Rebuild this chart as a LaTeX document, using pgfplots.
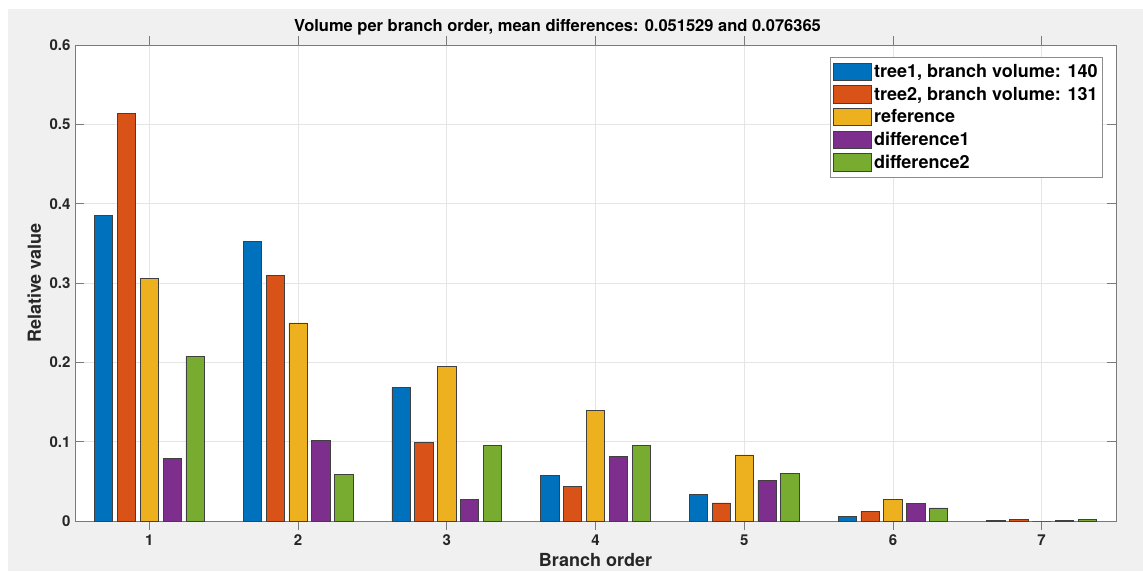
\documentclass[border=0pt]{standalone}
\usepackage{fontspec}
\setmainfont{TeX Gyre Heros}
\usepackage{pgfplots}
\pgfplotsset{compat=1.18}
\definecolor{c1}{HTML}{0072BD}
\definecolor{c2}{HTML}{D95319}
\definecolor{c3}{HTML}{EDB120}
\definecolor{c4}{HTML}{7E2F8E}
\definecolor{c5}{HTML}{77AC30}
\definecolor{figgray}{HTML}{F0F0F0}
\definecolor{axgray}{HTML}{7A7A7A}
\definecolor{txtgray}{HTML}{262626}
\begin{document}
\begin{tikzpicture}[x=1pt,y=1pt]
\path[use as bounding box] (0,0) rectangle (1143,571);
\fill[white] (0,0) rectangle (1143,571);
\fill[figgray] (8,0) rectangle (1143,562);
\begin{axis}[
  at={(75pt,50pt)}, anchor=south west,
  scale only axis, width=1041pt, height=476pt,
  xmin=0.5, xmax=7.5, ymin=0, ymax=0.6,
  xtick={1,2,3,4,5,6,7},
  ytick={0,0.1,0.2,0.3,0.4,0.5,0.6},
  yticklabel style={/pgf/number format/fixed,/pgf/number format/precision=1},
  /pgf/number format/assume math mode=true,
  tick label style={font=\bfseries\fontsize{15}{18}\selectfont, text=txtgray},
  xticklabel style={yshift=-1pt},
  yticklabel style={xshift=-1pt},
  tick align=inside,
  major tick length=9pt,
  tick style={axgray, line width=0.8pt},
  axis line style={axgray, line width=0.8pt},
  axis background/.style={fill=white},
  grid=major,
  major grid style={black!10, line width=0.8pt},
  title={Volume per branch order, mean differences: 0.051529 and 0.076365},
  title style={at={(0.5,1)}, anchor=base, yshift=8pt, xshift=-38pt, inner sep=0pt, font=\bfseries\fontsize{16.5}{19}\selectfont, text=black},
  xlabel={Branch order},
  xlabel style={at={(0.5,0)}, anchor=base, yshift=-45pt, inner sep=0pt, font=\bfseries\fontsize{18}{21}\selectfont, text=txtgray},
  ylabel={Relative value},
  ylabel style={at={(0,0.5)}, anchor=base, yshift=34pt, inner sep=0pt, font=\bfseries\fontsize{18}{21}\selectfont, text=txtgray},
  ybar,
  bar width=0.123,
  every axis plot/.append style={draw=black!75, line width=0.7pt},
  legend image code/.code={\draw[#1] (0pt,-8.7pt) rectangle (38pt,8.7pt);},
  legend style={at={(0.9875,0.975)}, anchor=north east, draw=black!45, fill=white, line width=0.8pt,
    font=\bfseries\fontsize{18}{21}\selectfont, text=black, cells={anchor=west}, row sep=4pt, inner xsep=3pt, inner ysep=5pt,
    nodes={inner xsep=2pt}},
  legend cell align=left,
]
\addplot[fill=c1, bar shift=-0.3077] coordinates {(1,0.3851) (2,0.3526) (3,0.168) (4,0.0571) (5,0.0336) (6,0.0063) (7,0.0010)};
\addplot[fill=c2, bar shift=-0.1538] coordinates {(1,0.5135) (2,0.3097) (3,0.0992) (4,0.0441) (5,0.0227) (6,0.0122) (7,0.0015)};
\addplot[fill=c3, bar shift=0] coordinates {(1,0.3055) (2,0.2496) (3,0.195) (4,0.1395) (5,0.0832) (6,0.0277) (7,0)};
\addplot[fill=c4, bar shift=0.1538] coordinates {(1,0.0786) (2,0.1017) (3,0.0269) (4,0.0815) (5,0.0508) (6,0.0223) (7,0.0012)};
\addplot[fill=c5, bar shift=0.3077] coordinates {(1,0.207) (2,0.0592) (3,0.0954) (4,0.0954) (5,0.0601) (6,0.0164) (7,0.0015)};
\legend{{tree1, branch volume: 140},{tree2, branch volume: 131},reference,difference1,difference2}
\end{axis}
\end{tikzpicture}
\end{document}
